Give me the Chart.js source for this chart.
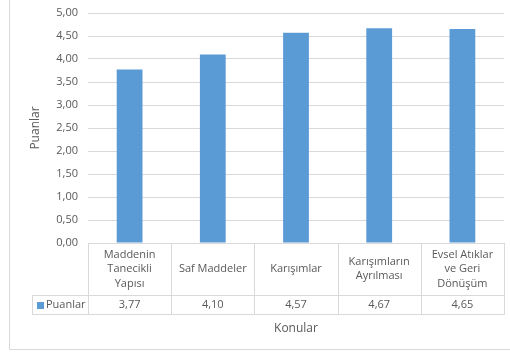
<!DOCTYPE html>
<html>
<head>
<meta charset="utf-8">
<script src="https://cdn.jsdelivr.net/npm/chart.js@4/dist/chart.umd.min.js"></script>
<style>
  html, body { margin: 0; padding: 0; background: #ffffff; }
  #wrap { width: 510px; height: 355px; position: relative; }
</style>
</head>
<body>
<div id="wrap"><canvas id="c" width="510" height="355"></canvas></div>
<script>
// Topics (categories), each split into the lines shown in its table cell
const categories = [
  ['Maddenin', 'Tanecikli', 'Yapısı'],
  ['Saf Maddeler'],
  ['Karışımlar'],
  ['Karışımların', 'Ayrılması'],
  ['Evsel Atıklar', 've Geri', 'Dönüşüm']
];
const seriesName = 'Puanlar';
const scores = [3.77, 4.10, 4.57, 4.67, 4.65];
const yTicks = [0, 0.5, 1, 1.5, 2, 2.5, 3, 3.5, 4, 4.5, 5];
const xTitle = 'Konular';
const yTitle = 'Puanlar';

const TEXT = '#595959';
const LINE = '#d9d9d9';
const BAR = '#5b9bd5';
const FONT = '"Open Sans", sans-serif';

const fmt = v => Number(v).toFixed(2).replace('.', ',');

// Data table under the plot: category row, then series row with legend key
const dataTable = {
  id: 'dataTable',
  afterDraw(chart) {
    const ctx = chart.ctx;
    const xs = chart.scales.x;
    const area = chart.chartArea;
    const n = categories.length;
    const step = xs.width / n;
    const top = area.bottom;
    const row1 = top + 52;
    const row2 = row1 + 19;
    const legendLeft = 32;

    ctx.save();
    ctx.strokeStyle = LINE;
    ctx.lineWidth = 1;
    ctx.beginPath();
    // horizontal rules
    ctx.moveTo(area.left, Math.round(top) + 0.5); ctx.lineTo(area.right, Math.round(top) + 0.5);
    ctx.moveTo(legendLeft, Math.round(row1) + 0.5); ctx.lineTo(area.right, Math.round(row1) + 0.5);
    ctx.moveTo(legendLeft, Math.round(row2) + 0.5); ctx.lineTo(area.right, Math.round(row2) + 0.5);
    // vertical rules at category boundaries
    for (let i = 0; i <= n; i++) {
      const x = Math.round(i < n ? xs.getPixelForValue(i) - step / 2 : xs.getPixelForValue(n - 1) + step / 2) + 0.5;
      ctx.moveTo(x, Math.round(top)); ctx.lineTo(x, Math.round(row2) + 1);
    }
    ctx.moveTo(legendLeft + 0.5, Math.round(row1)); ctx.lineTo(legendLeft + 0.5, Math.round(row2) + 1);
    ctx.stroke();

    ctx.fillStyle = TEXT;
    ctx.font = '11px ' + FONT;
    ctx.textAlign = 'center';
    ctx.textBaseline = 'middle';
    const lh = 14.5;
    categories.forEach((lines, i) => {
      const cx = xs.getPixelForValue(i);
      const cy = (top + row1) / 2;
      const y0 = cy - (lines.length - 1) * lh / 2;
      lines.forEach((t, k) => ctx.fillText(t, cx, y0 + k * lh));
      ctx.fillText(fmt(chart.data.datasets[0].data[i]), cx, (row1 + row2) / 2 + 0.5);
    });

    // legend key cell
    const my = (row1 + row2) / 2;
    ctx.fillStyle = BAR;
    ctx.fillRect(legendLeft + 5, Math.round(my - 3), 7, 7);
    ctx.fillStyle = TEXT;
    ctx.textAlign = 'left';
    ctx.fillText(seriesName, legendLeft + 14, my + 0.5);

    // chart frame
    ctx.strokeStyle = LINE;
    ctx.beginPath();
    ctx.moveTo(9.5, 0); ctx.lineTo(9.5, 349.5); ctx.lineTo(510, 349.5);
    ctx.stroke();
    ctx.restore();
  }
};

new Chart(document.getElementById('c'), {
  type: 'bar',
  data: {
    labels: categories.map(c => c.join(' ')),
    datasets: [{
      label: seriesName,
      data: scores,
      backgroundColor: BAR,
      borderWidth: 0,
      barPercentage: 0.31,
      categoryPercentage: 1
    }]
  },
  options: {
    responsive: false,
    animation: false,
    layout: { padding: { left: 8, right: 6, top: 13, bottom: 0 } },
    plugins: { legend: { display: false }, tooltip: { enabled: false } },
    scales: {
      x: {
        grid: { display: false },
        border: { display: false },
        ticks: { display: false },
        title: {
          display: true, text: xTitle, color: TEXT,
          font: { family: FONT, size: 12 },
          padding: { top: 0, bottom: 19 }
        },
        afterFit(s) { s.height = 112; s.paddingLeft = 0; s.paddingRight = 0; }
      },
      y: {
        min: 0, max: 5,
        afterBuildTicks(s) { s.ticks = yTicks.map(v => ({ value: v })); },
        grid: { color: LINE, drawTicks: false },
        border: { display: false },
        ticks: {
          color: TEXT, padding: 10,
          font: { family: FONT, size: 11 },
          callback: v => fmt(v)
        },
        title: {
          display: true, text: yTitle, color: TEXT,
          font: { family: FONT, size: 12 },
          padding: { top: 20, bottom: 0 }
        },
        afterFit(s) { s.width = 80; s.paddingTop = 0; s.paddingBottom = 0; }
      }
    }
  },
  plugins: [dataTable]
});
</script>
</body>
</html>
